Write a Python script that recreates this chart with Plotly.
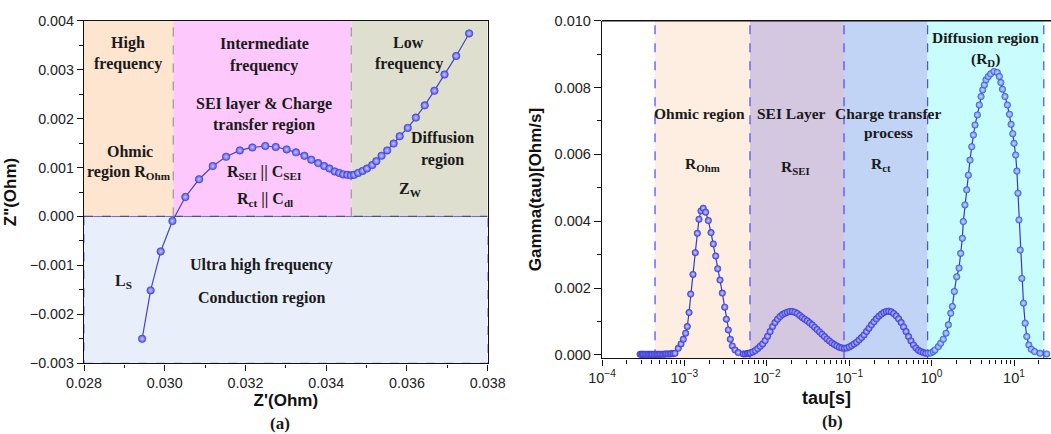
import plotly.graph_objects as go

# ---------------- Panel (a): Nyquist plot ----------------
z_real = [0.02944, 0.02965, 0.02990, 0.03019, 0.03051, 0.03085, 0.03119, 0.03152,
          0.03186, 0.03217, 0.03249, 0.03275, 0.03302, 0.03325, 0.03346, 0.03363,
          0.03380, 0.03395, 0.03408, 0.03421, 0.03432, 0.03442, 0.03452, 0.03461,
          0.03469, 0.03479, 0.03490, 0.03501, 0.03514, 0.03524, 0.03537, 0.03551,
          0.03567, 0.03582, 0.03602, 0.03622, 0.03644, 0.03668, 0.03693, 0.03722,
          0.03754]
z_imag = [-0.00250, -0.00151, -0.000714, -0.000093, 0.000398, 0.00076, 0.00103, 0.00122,
          0.00135, 0.00141, 0.00144, 0.00142, 0.00137, 0.00131, 0.00124, 0.00116,
          0.00109, 0.00103, 0.00098, 0.00092, 0.00089, 0.00086, 0.00085, 0.00084,
          0.00085, 0.00089, 0.00093, 0.00098, 0.00105, 0.00113, 0.00124, 0.00135,
          0.00149, 0.00164, 0.00181, 0.00202, 0.00227, 0.00257, 0.00290, 0.00328,
          0.00374]
region_edges_a = [0.028, 0.03021, 0.03462, 0.038]

# ---------------- Panel (b): DRT ----------------
tau_b = [
    # baseline
    2.9e-4, 3.0e-4, 3.1e-4, 3.2e-4, 3.35e-4, 3.5e-4, 3.65e-4, 3.8e-4, 3.95e-4, 4.1e-4,
    4.3e-4, 4.5e-4, 4.7e-4, 4.9e-4, 5.1e-4, 5.35e-4, 5.6e-4, 5.85e-4, 6.1e-4, 6.4e-4,
    6.7e-4, 7.0e-4, 7.35e-4,
    # ohmic peak
    7.69e-4, 8.43e-4, 9.10e-4, 9.70e-4, 1.035e-3, 1.084e-3, 1.138e-3, 1.191e-3, 1.271e-3,
    1.355e-3, 1.435e-3, 1.503e-3, 1.589e-3, 1.694e-3, 1.811e-3, 1.950e-3, 2.104e-3,
    2.244e-3, 2.399e-3, 2.535e-3, 2.704e-3, 2.884e-3, 3.083e-3, 3.228e-3, 3.412e-3,
    3.606e-3, 3.811e-3, 4.111e-3, 4.508e-3, 5.19e-3, 5.5e-3, 5.8e-3, 6.05e-3,
    # SEI + charge transfer
    6.31e-3, 6.76e-3, 7.24e-3, 7.76e-3, 8.32e-3, 8.91e-3, 9.55e-3, 1.023e-2, 1.096e-2,
    1.175e-2, 1.259e-2, 1.349e-2, 1.445e-2, 1.549e-2, 1.66e-2, 1.778e-2, 1.905e-2,
    2.042e-2, 2.188e-2, 2.344e-2, 2.512e-2, 2.692e-2, 2.884e-2, 3.09e-2, 3.311e-2,
    3.548e-2, 3.802e-2, 4.074e-2, 4.365e-2, 4.677e-2, 5.012e-2, 5.37e-2, 5.754e-2,
    6.166e-2, 6.607e-2, 7.079e-2, 7.586e-2, 8.128e-2, 8.71e-2, 9.333e-2, 0.1, 0.1072,
    0.1148, 0.123, 0.1318, 0.1413, 0.1514, 0.1622, 0.1738, 0.1862, 0.1995, 0.2138,
    0.2291, 0.2455, 0.263, 0.2818, 0.302, 0.3236, 0.3467, 0.3715, 0.3981, 0.4266,
    0.4571, 0.4898, 0.5248, 0.5623, 0.6026, 0.6457, 0.6918, 0.7413, 0.7943, 0.8511,
    0.912, 0.9772, 1.047,
    # diffusion
    1.099, 1.208, 1.288, 1.387, 1.496, 1.596, 1.706, 1.786, 1.888, 2.014, 2.153, 2.254,
    2.361, 2.427, 2.541, 2.667, 2.793, 2.924, 3.069, 3.214, 3.365, 3.589, 3.793, 3.981,
    4.169, 4.365, 4.571, 4.875, 5.212, 5.715, 6.266, 6.637, 6.918, 7.244, 7.762, 8.318,
    8.81, 9.226, 9.661, 10.0, 10.47, 10.84, 11.17, 11.48, 11.89, 12.45, 13.03, 13.65,
    14.29, 15.14, 16.22, 17.78, 20.7, 24.95,
]
gamma_b = [
    0.00002, 0.00002, 0.00002, 0.00002, 0.00002, 0.00002, 0.00002, 0.00002, 0.00002, 0.00002,
    0.00002, 0.00002, 0.00002, 0.00002, 0.00002, 0.00002, 0.00002, 0.00003, 0.00003, 0.00003,
    0.00003, 0.00004, 0.00004,
    0.00005, 0.00020, 0.00033, 0.00047, 0.00065, 0.00085, 0.00127, 0.00182, 0.00241,
    0.00306, 0.00364, 0.00406, 0.00431, 0.00439, 0.00427, 0.00402, 0.00366,
    0.00332, 0.00296, 0.00258, 0.00224, 0.00185, 0.00143, 0.00107, 0.00075,
    0.00047, 0.00027, 0.00015, 0.00007, 0.00003, 0.00003, 0.00004, 0.00005,
    0.00006, 0.00009, 0.00013, 0.00019, 0.00026, 0.00033, 0.00043, 0.00056, 0.00070,
    0.00085, 0.00097, 0.00107, 0.00115, 0.00121, 0.00125, 0.00128, 0.00130,
    0.00130, 0.00128, 0.00124, 0.00118, 0.00112, 0.00107, 0.00102, 0.00096,
    0.00090, 0.00083, 0.00076, 0.00069, 0.00062, 0.00055, 0.00048, 0.00042,
    0.00036, 0.00031, 0.00027, 0.00023, 0.00021, 0.00020, 0.00021, 0.00024, 0.00028,
    0.00033, 0.00038, 0.00045, 0.00052, 0.00060, 0.00070, 0.00080, 0.00090, 0.00099, 0.00108,
    0.00116, 0.00122, 0.00127, 0.00130, 0.00131, 0.00129, 0.00124, 0.00117, 0.00108, 0.00097,
    0.00084, 0.00070, 0.00055, 0.00042, 0.00030, 0.00021, 0.00014, 0.00010, 0.00007, 0.00005,
    0.00005, 0.00006, 0.00010,
    0.00015, 0.00025, 0.00035, 0.00047, 0.00065, 0.00090, 0.00125, 0.00145, 0.00190, 0.00234,
    0.00260, 0.00304, 0.00349, 0.00399, 0.00449, 0.00494, 0.00538, 0.00583, 0.00623, 0.00658,
    0.00688, 0.00718, 0.00748, 0.00773, 0.00793, 0.00808, 0.00823, 0.00833, 0.00841, 0.00848,
    0.00845, 0.00833, 0.00815, 0.00795, 0.00773, 0.00748, 0.00720, 0.00690, 0.00662, 0.00633,
    0.00598, 0.00550, 0.00484, 0.00404, 0.00314, 0.00229, 0.00155, 0.00095, 0.00055, 0.00030,
    0.00017, 0.00010, 0.00005, 0.00003,
]
region_edges_b = [4.4e-4, 6.25e-3, 0.0865, 0.895, 23.0]
tick_vals_b = [1e-4, 1e-3, 1e-2, 1e-1, 1e0, 1e1]
tick_text_b = ["10<sup>−4</sup>", "10<sup>−3</sup>", "10<sup>−2</sup>",
               "10<sup>−1</sup>", "10<sup>0</sup>", "10<sup>1</sup>"]

W, H = 1051, 434
SANS = "Liberation Sans, Arial, sans-serif"
SERIF = "Liberation Serif, Times New Roman, serif"

fig = go.Figure()

fig.add_trace(go.Scatter(
    x=z_real, y=z_imag, mode="lines+markers", xaxis="x", yaxis="y",
    line=dict(color="#4646c0", width=1.2),
    marker=dict(size=7.5, color="#4f4fee", line=dict(color="#3c3cc8", width=0.6),
                gradient=dict(type="radial", color="#c8ccff")),
    showlegend=False))

marker_cols_b = ["#4444e4" if t < 0.9 else "#4a84f0" for t in tau_b]
fig.add_trace(go.Scatter(
    x=tau_b, y=gamma_b, mode="lines+markers", xaxis="x2", yaxis="y2",
    line=dict(color="#3a3ab8", width=1.2),
    marker=dict(size=6.5, color=marker_cols_b, line=dict(color="#3838c8", width=0.5),
                gradient=dict(type="radial", color="#d6dcff")),
    showlegend=False))

shapes = []
# panel (a) regions
fills_a = ["#fde5cf", "#fdc9fc", "#dfdfd0"]
for i, c in enumerate(fills_a):
    shapes.append(dict(type="rect", xref="x", yref="y", x0=region_edges_a[i], x1=region_edges_a[i + 1],
                       y0=0, y1=0.004, fillcolor=c, line=dict(width=0), layer="below"))
shapes.append(dict(type="rect", xref="x", yref="y", x0=0.028, x1=0.038, y0=-0.003, y1=0,
                   fillcolor="#e9effa", line=dict(color="#6a6ae0", width=1, dash="dash"), layer="below"))
for xv in region_edges_a[1:3]:
    shapes.append(dict(type="line", xref="x", yref="y", x0=xv, x1=xv, y0=0, y1=0.004,
                       line=dict(color="#8a8a8a", width=1, dash="dash"), layer="below"))
shapes.append(dict(type="line", xref="x", yref="y", x0=0.028, x1=0.038, y0=0, y1=0,
                   line=dict(color="#505070", width=1.3, dash="dash"), layer="below"))

# panel (b) regions
fills_b = ["#fdeee1", "#d4c7e0", "#c2d4f5", "#c9fdfd"]
for i, c in enumerate(fills_b):
    shapes.append(dict(type="rect", xref="x2", yref="y2 domain", x0=region_edges_b[i], x1=region_edges_b[i + 1],
                       y0=0, y1=1, fillcolor=c, line=dict(width=0), layer="below"))
for xv in region_edges_b:
    shapes.append(dict(type="line", xref="x2", yref="y2 domain", x0=xv, x1=xv, y0=0, y1=1,
                       line=dict(color="#4a4af5", width=1.2, dash="dash"), layer="below"))
shapes.append(dict(type="line", xref="x2 domain", yref="y2 domain", x0=0, x1=1, y0=1, y1=1,
                   line=dict(color="#111111", width=1.4)))

ann = []
def lab(x, y, text, xref="x", yref="y", size=16):
    ann.append(dict(x=x, y=y, xref=xref, yref=yref, text="<b>" + text + "</b>", showarrow=False,
                    font=dict(family=SERIF, size=size, color="#1a1a1a"), xanchor="center", yanchor="middle"))

lab(0.02908, 0.003545, "High")
lab(0.02908, 0.003116, "frequency")
lab(0.03247, 0.003525, "Intermediate")
lab(0.03247, 0.003075, "frequency")
lab(0.03247, 0.002299, "SEI layer &amp; Charge")
lab(0.03247, 0.00187, "transfer region")
lab(0.02913, 0.001318, "Ohmic")
lab(0.02912, 0.000889, "region R<sub>Ohm</sub>")
lab(0.03247, 0.000889, "R<sub>SEI</sub> || C<sub>SEI</sub>")
lab(0.03248, 0.000337, "R<sub>ct</sub> || C<sub>dl</sub>")
lab(0.03605, 0.003545, "Low")
lab(0.03606, 0.003116, "frequency")
lab(0.03689, 0.001604, "Diffusion")
lab(0.03689, 0.001154, "region")
lab(0.03609, 0.000541, "Z<sub>W</sub>")
lab(0.02897, -0.001338, "L<sub>S</sub>")
lab(0.03240, -0.000991, "Ultra high frequency")
lab(0.03240, -0.001665, "Conduction region")

# panel (b) labels (log x for annotations)
lab(-2.811, 0.00723, "Ohmic region", "x2", "y2", 15.5)
lab(-2.786, 0.00570, "R<sub>Ohm</sub>", "x2", "y2", 15.5)
lab(-1.706, 0.00723, "SEI Layer", "x2", "y2", 15.5)
lab(-1.646, 0.00561, "R<sub>SEI</sub>", "x2", "y2", 15.5)
lab(-0.529, 0.00723, "Charge transfer", "x2", "y2", 15.5)
lab(-0.529, 0.00666, "process", "x2", "y2", 15.5)
lab(-0.614, 0.00570, "R<sub>ct</sub>", "x2", "y2", 15.5)
lab(0.648, 0.00951, "Diffusion region", "x2", "y2", 15.5)
lab(0.660, 0.00885, "(R<sub>D</sub>)", "x2", "y2", 15.5)

# panel captions
lab(280 / W, 1 - 423 / H, "(a)", "paper", "paper", 17)
lab(832 / W, 1 - 421 / H, "(b)", "paper", "paper", 17)

axis_common = dict(showline=True, linecolor="#111111", linewidth=1.4, showgrid=False, zeroline=False,
                   ticks="outside", ticklen=6, tickwidth=1.2, tickcolor="#111111", automargin=False,
                   tickfont=dict(family=SANS, size=14.3, color="#222222"))

fig.update_layout(
    width=W, height=H, margin=dict(l=0, r=0, t=0, b=0, autoexpand=False),
    paper_bgcolor="white", plot_bgcolor="white",
    xaxis=dict(domain=[84 / W, 487.7 / W], range=[0.028, 0.038], anchor="y", dtick=0.002, tick0=0.028,
               tickformat=".3f", mirror=True,
               minor=dict(ticks="outside", ticklen=3.5, dtick=0.001, tick0=0.028, tickcolor="#111111"),
               title=dict(text="<b>Z'(Ohm)</b>", font=dict(family=SANS, size=17, color="#111111"), standoff=4),
               **axis_common),
    yaxis=dict(domain=[1 - 363.3 / H, 1 - 20.7 / H], range=[-0.003, 0.004], anchor="x", dtick=0.001,
               tick0=0, tickformat=".3f", mirror=True,
               minor=dict(ticks="outside", ticklen=3.5, dtick=0.0005, tick0=0, tickcolor="#111111"),
               title=dict(text="<b>Z\"(Ohm)</b>", font=dict(family=SANS, size=17, color="#111111"), standoff=8),
               **axis_common),
    xaxis2=dict(domain=[602 / W, 1.0], type="log", range=[-4, 1.449], anchor="y2",
                tickvals=tick_vals_b, ticktext=tick_text_b,
                minor=dict(ticks="outside", ticklen=4, tickcolor="#111111",
                           tickvals=[m * 10 ** e for e in range(-4, 2) for m in range(2, 10)]),
                title=dict(text="<b>tau[s]</b>", font=dict(family=SANS, size=18, color="#111111"), standoff=6),
                **{**axis_common, "tickfont": dict(family=SANS, size=14.5, color="#222222")}),
    yaxis2=dict(domain=[1 - 358.3 / H, 1 - 20.7 / H], range=[-0.0001, 0.010], anchor="x2", dtick=0.002,
                tick0=0, tickformat=".3f",
                minor=dict(ticks="outside", ticklen=4, dtick=0.001, tick0=0, tickcolor="#111111"),
                title=dict(text="<b>Gamma(tau)[Ohm/s]</b>", font=dict(family=SANS, size=17, color="#111111"),
                           standoff=8),
                **{**axis_common, "ticklen": 7, "tickfont": dict(family=SANS, size=14.5, color="#222222")}),
    shapes=shapes, annotations=ann,
)

fig.write_html("out.html")
